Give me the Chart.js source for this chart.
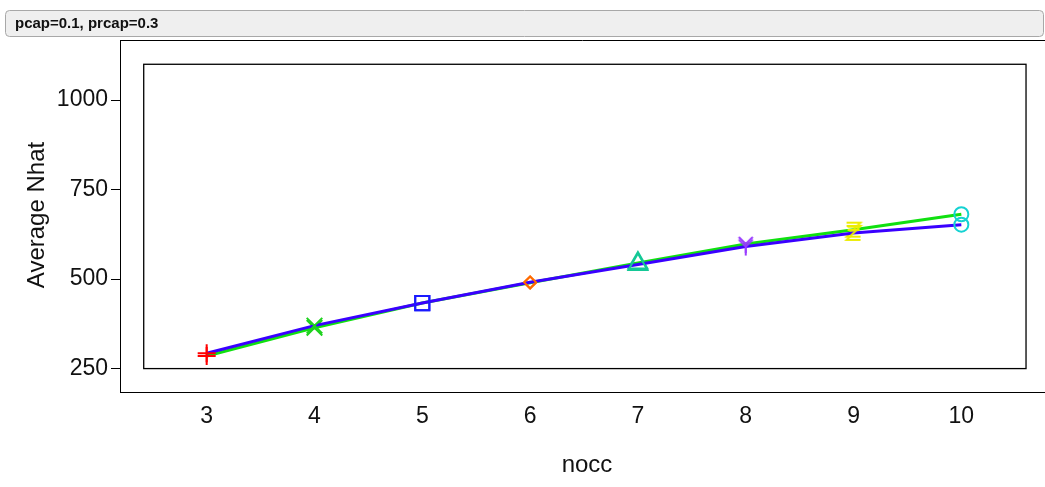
<!DOCTYPE html>
<html>
<head>
<meta charset="utf-8">
<title>Average Nhat by nocc</title>
<script src="https://cdn.jsdelivr.net/npm/chart.js@4.4.1/dist/chart.umd.min.js"></script>
<style>
    html, body { margin: 0; padding: 0; background: #ffffff; }
    #chart { display: block; }
</style>
</head>
<body>
<canvas id="chart" width="1045" height="487"></canvas>
<script>
// data
const nocc = [3, 4, 5, 6, 7, 8, 9, 10];
const greenNhat = [285, 364, 433, 490, 545, 598, 638, 681];
const blueNhat = [293, 370, 433, 491, 541, 591, 629, 652];
const yTicks = [250, 500, 750, 1000];
const stripLabel = 'pcap=0.1, prcap=0.3';

// one marker per occasion, same for both lines
const markerStyles = ['cross', 'crossRot', 'rect', 'rectRot', 'triangle', 'ysym', 'zsym', 'circle'];
const markerColors = ['#ff0000', '#1ed21e', '#1a1aff', '#ff6a00', '#14c896', '#9a3cff', '#ecec00', '#14d2d2'];
const markerSizes = [9, 11, 10, 6, 11, 8, 8, 7];

// axis ranges of the panel and of the inner data box
const xRange = [2.196, 10.776];
const yRange = [184.6, 1167.8];
const boxX = [2.416, 10.6];
const boxY = [250, 1100];

// small canvases for the two letter-like symbols
function makeSymbol(kind, color) {
    const c = document.createElement('canvas');
    c.width = 20;
    c.height = 20;
    const g = c.getContext('2d');
    g.strokeStyle = color;
    g.lineWidth = 2;
    g.beginPath();
    if (kind === 'ysym') {
        g.moveTo(3, 3); g.lineTo(10, 10); g.lineTo(17, 3);
        g.moveTo(10, 10); g.lineTo(10, 19);
    } else {
        g.moveTo(3, 3); g.lineTo(17, 3); g.lineTo(3, 17); g.lineTo(17, 17);
        g.moveTo(4, 7); g.lineTo(16, 7);
    }
    g.stroke();
    return c;
}

const pointStyles = markerStyles.map(function (s, i) {
    if (s === 'ysym' || s === 'zsym') {
        return makeSymbol(s, markerColors[i]);
    }
    return s;
});

// strip, panel top edge, inner box and axis titles
const panelDecor = {
    id: 'panelDecor',
    beforeDraw: function (chart) {
        const ctx = chart.ctx;
        const area = chart.chartArea;
        const xs = chart.scales.x;
        const ys = chart.scales.y;
        ctx.save();

        // strip
        ctx.beginPath();
        ctx.roundRect(5.5, 10.5, 1038, 26, 4);
        ctx.fillStyle = '#efefef';
        ctx.fill();
        ctx.strokeStyle = '#a8a8a8';
        ctx.lineWidth = 1;
        ctx.stroke();
        ctx.fillStyle = '#111111';
        ctx.font = 'bold 15px "Liberation Sans", Arial, sans-serif';
        ctx.textBaseline = 'middle';
        ctx.textAlign = 'left';
        ctx.fillText(stripLabel, 15, 24);

        // panel top line
        ctx.beginPath();
        ctx.moveTo(area.left, area.top + 0.5);
        ctx.lineTo(area.right, area.top + 0.5);
        ctx.strokeStyle = '#000000';
        ctx.stroke();

        // inner box
        const x0 = xs.getPixelForValue(boxX[0]);
        const x1 = xs.getPixelForValue(boxX[1]);
        const y0 = ys.getPixelForValue(boxY[1]);
        const y1 = ys.getPixelForValue(boxY[0]);
        ctx.lineWidth = 1.3;
        ctx.strokeRect(x0, y0, x1 - x0, y1 - y0);

        // axis titles
        ctx.fillStyle = '#111111';
        ctx.font = '24px "Liberation Sans", Arial, sans-serif';
        ctx.textAlign = 'center';
        ctx.textBaseline = 'middle';
        ctx.fillText('nocc', 587, 465);
        ctx.translate(37, 215);
        ctx.rotate(-Math.PI / 2);
        ctx.fillText('Average Nhat', 0, 0);
        ctx.restore();
    }
};

function makeSeries(values, color) {
    return {
        data: nocc.map(function (n, i) { return { x: n, y: values[i] }; }),
        borderColor: color,
        borderWidth: 3,
        pointStyle: pointStyles,
        pointBorderColor: markerColors,
        pointBackgroundColor: 'rgba(0,0,0,0)',
        pointRadius: markerSizes,
        pointBorderWidth: 2,
        tension: 0,
        fill: false
    };
}

function plainLabel(value) {
    return String(value);
}

const ctx = document.getElementById('chart').getContext('2d');
new Chart(ctx, {
    type: 'line',
    data: {
        datasets: [
            makeSeries(blueNhat, '#3a00ff'),
            makeSeries(greenNhat, '#10e010')
        ]
    },
    options: {
        responsive: false,
        animation: false,
        devicePixelRatio: 1,
        layout: { autoPadding: false, padding: { top: 40, left: 0, right: 0, bottom: 0 } },
        plugins: {
            legend: { display: false },
            tooltip: { enabled: false }
        },
        scales: {
            x: {
                type: 'linear',
                min: xRange[0],
                max: xRange[1],
                afterBuildTicks: function (scale) {
                    scale.ticks = nocc.map(function (v) { return { value: v }; });
                },
                afterFit: function (scale) {
                    scale.height = 95;
                    scale.paddingLeft = 0;
                    scale.paddingRight = 0;
                },
                grid: { display: false, drawTicks: false },
                border: { display: true, color: '#000000', width: 1 },
                ticks: {
                    padding: 11,
                    color: '#111111',
                    font: { family: '"Liberation Sans", Arial, sans-serif', size: 23 },
                    maxRotation: 0,
                    callback: plainLabel
                }
            },
            y: {
                type: 'linear',
                min: yRange[0],
                max: yRange[1],
                afterBuildTicks: function (scale) {
                    scale.ticks = yTicks.map(function (v) { return { value: v }; });
                },
                afterFit: function (scale) {
                    scale.width = 120;
                    scale.paddingTop = 0;
                    scale.paddingBottom = 0;
                },
                grid: { drawOnChartArea: false, drawTicks: true, tickLength: 9, color: '#000000' },
                border: { display: true, color: '#000000', width: 1 },
                ticks: {
                    padding: 3,
                    color: '#111111',
                    font: { family: '"Liberation Sans", Arial, sans-serif', size: 23 },
                    callback: plainLabel
                }
            }
        }
    },
    plugins: [panelDecor]
});
</script>
</body>
</html>
